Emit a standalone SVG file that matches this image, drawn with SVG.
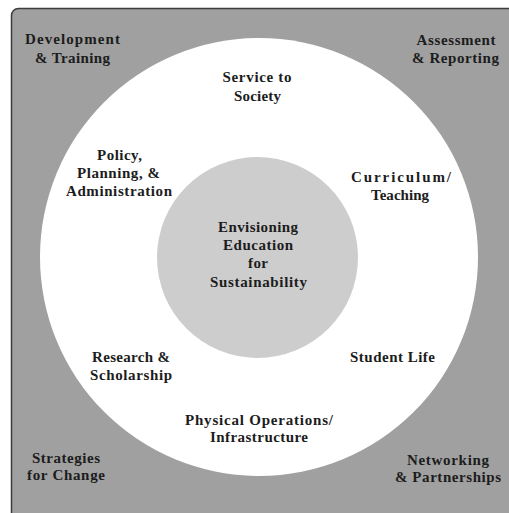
<svg xmlns="http://www.w3.org/2000/svg" width="509" height="513" viewBox="0 0 509 513">
<style>
.t{font-family:"Liberation Serif","Times New Roman",serif;font-weight:bold;font-size:15px;fill:#1c1c1c;text-anchor:middle}
</style>
<rect x="0" y="0" width="509" height="513" fill="#ffffff"/>
<g id="frame">
<rect x="11.5" y="8.5" width="520" height="530" rx="7" fill="#a0a0a0" stroke="#3c3c3c" stroke-width="1.5"/>
</g>
<g id="ring">
<circle cx="259" cy="257" r="219" fill="#ffffff"/>
</g>
<g id="core">
<circle cx="257.5" cy="257.5" r="100.5" fill="#cdcdcd"/>
</g>
<g id="connectors"/>
<g id="development-training">
<text class="t" x="72.5" y="44" textLength="95" lengthAdjust="spacing">Development</text>
<text class="t" x="72.5" y="63" textLength="75" lengthAdjust="spacing">&amp; Training</text>
</g>
<g id="assessment-reporting">
<text class="t" x="456" y="45" textLength="79" lengthAdjust="spacing">Assessment</text>
<text class="t" x="455.5" y="63" textLength="87" lengthAdjust="spacing">&amp; Reporting</text>
</g>
<g id="strategies-change">
<text class="t" x="66" y="463" textLength="68" lengthAdjust="spacing">Strategies</text>
<text class="t" x="66" y="480" textLength="78" lengthAdjust="spacing">for Change</text>
</g>
<g id="networking-partnerships">
<text class="t" x="448" y="465" textLength="82" lengthAdjust="spacing">Networking</text>
<text class="t" x="448" y="482" textLength="106" lengthAdjust="spacing">&amp; Partnerships</text>
</g>
<g id="service-society">
<text class="t" x="257" y="82" textLength="69" lengthAdjust="spacing">Service to</text>
<text class="t" x="257.5" y="101" textLength="47" lengthAdjust="spacing">Society</text>
</g>
<g id="policy-planning">
<text class="t" x="119.5" y="160" textLength="45" lengthAdjust="spacing">Policy,</text>
<text class="t" x="118.5" y="178" textLength="83" lengthAdjust="spacing">Planning, &amp;</text>
<text class="t" x="119" y="196" textLength="106" lengthAdjust="spacing">Administration</text>
</g>
<g id="curriculum-teaching">
<text class="t" x="401" y="182" textLength="100" lengthAdjust="spacing">Curriculum/</text>
<text class="t" x="400" y="200" textLength="58" lengthAdjust="spacing">Teaching</text>
</g>
<g id="envisioning">
<text class="t" x="258" y="232" textLength="80" lengthAdjust="spacing">Envisioning</text>
<text class="t" x="258" y="250" textLength="70" lengthAdjust="spacing">Education</text>
<text class="t" x="258" y="268" textLength="20" lengthAdjust="spacing">for</text>
<text class="t" x="258.5" y="287" textLength="97" lengthAdjust="spacing">Sustainability</text>
</g>
<g id="research-scholarship">
<text class="t" x="131" y="362" textLength="78" lengthAdjust="spacing">Research &amp;</text>
<text class="t" x="131" y="380" textLength="82" lengthAdjust="spacing">Scholarship</text>
</g>
<g id="student-life">
<text class="t" x="392.5" y="362" textLength="85" lengthAdjust="spacing">Student Life</text>
</g>
<g id="physical-operations">
<text class="t" x="259" y="425" textLength="148" lengthAdjust="spacing">Physical Operations/</text>
<text class="t" x="259" y="442" textLength="98" lengthAdjust="spacing">Infrastructure</text>
</g>
</svg>
